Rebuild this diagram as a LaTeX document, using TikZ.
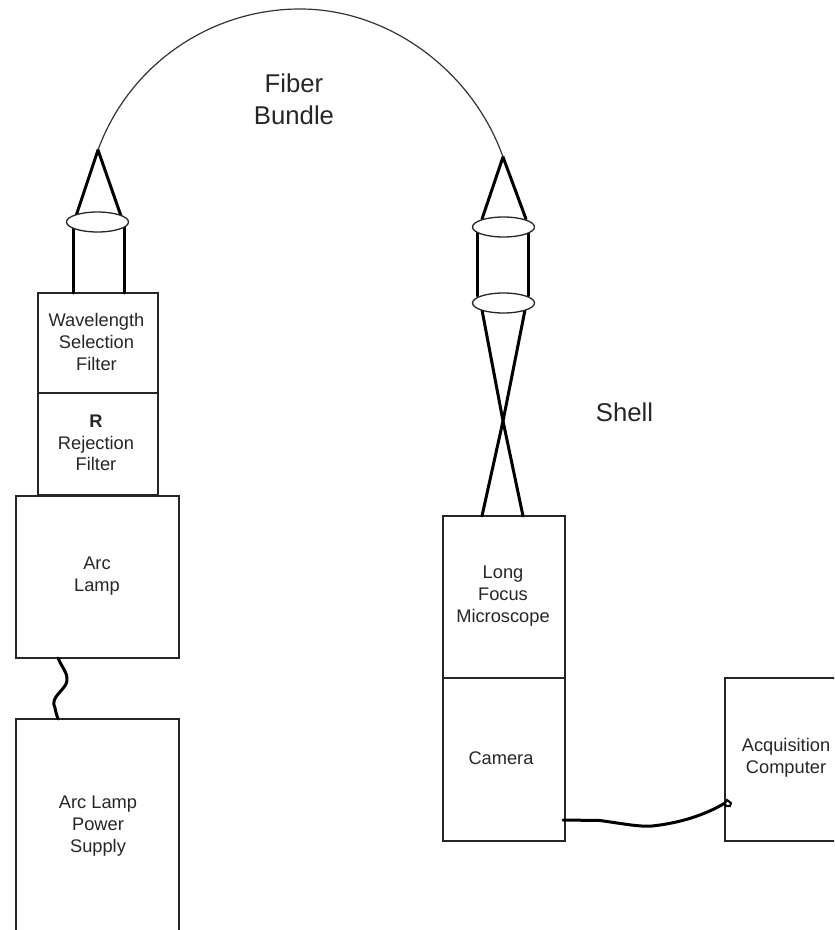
\documentclass[tikz,border=0pt]{standalone}
\usepackage{fontspec}
\setmainfont{Liberation Sans}
\usetikzlibrary{shapes.geometric}
\def\px{0.75pt}
\tikzset{
  box/.style={draw=black!85,line width=1.5*\px,inner sep=0pt,outer sep=0pt,fill=none},
  lens/.style={draw=black!85,ellipse,line width=1.3*\px,inner sep=0pt,outer sep=0pt,minimum width=62*\px,minimum height=20*\px,fill=white},
  optic/.style={line width=3*\px,black,line cap=round,line join=round},
  cable/.style={line width=3*\px,black,line cap=round,line join=round},
  fiber/.style={line width=1.2*\px,black!80},
  lbl/.style={font=\fontsize{13.7}{16.3}\selectfont,align=center,inner sep=0pt,text=black!85},
  biglbl/.style={font=\fontsize{19.3}{24}\selectfont,align=center,inner sep=0pt,text=black!85}
}
\begin{document}
\begin{tikzpicture}[x=0.75pt,y=-0.75pt]
\useasboundingbox (0,0) rectangle (834,930);
\clip (0,0) rectangle (834,930);
% boxes
\node[box,minimum width=120*\px,minimum height=100*\px] (wave) at (98,343) {};
\node[box,minimum width=120*\px,minimum height=102*\px] (rej) at (98,444) {};
\node[box,minimum width=163*\px,minimum height=162*\px] (lamp) at (97.5,577) {};
\node[box,minimum width=163*\px,minimum height=224*\px] (power) at (97.5,831) {};
\node[box,minimum width=122*\px,minimum height=162*\px] (micro) at (504,597) {};
\node[box,minimum width=122*\px,minimum height=163*\px] (cam) at (504,759.5) {};
\node[box,minimum width=130*\px,minimum height=163*\px] (comp) at (790,759.5) {};
% named optic points
\coordinate (apexL) at (98,150);
\coordinate (coneLa) at (76,216);
\coordinate (coneLb) at (121,216);
\coordinate (tubeLa) at (73,226);
\coordinate (tubeLb) at (124,226);
\coordinate (tubeLc) at (73,293);
\coordinate (tubeLd) at (124,293);
\coordinate (apexR) at (503,157);
\coordinate (coneRa) at (482,219);
\coordinate (coneRb) at (526,219);
\coordinate (tubeRa) at (477,232);
\coordinate (tubeRb) at (528,232);
\coordinate (tubeRc) at (477,296);
\coordinate (tubeRd) at (528,296);
\coordinate (crossA) at (482,310);
\coordinate (crossB) at (525,310);
\coordinate (crossC) at (523,516);
\coordinate (crossD) at (482,516);
\coordinate (crossM) at (503,421);
% optic lines
\draw[optic] (coneLa) -- (apexL) -- (coneLb);
\draw[optic] (tubeLa) -- (tubeLc);
\draw[optic] (tubeLb) -- (tubeLd);
\draw[optic] (coneRa) -- (apexR) -- (coneRb);
\draw[optic] (tubeRa) -- (tubeRc);
\draw[optic] (tubeRb) -- (tubeRd);
\draw[optic] (crossA) -- (crossM) -- (crossC);
\draw[optic] (crossB) -- (crossM) -- (crossD);
% lenses
\node[lens] (lensL) at (97.5,222) {};
\node[lens] (lensRa) at (503.5,227) {};
\node[lens] (lensRb) at (503.5,303) {};
% fiber
\draw[fiber] (apexL) .. controls (129,65) and (210,9) .. (300,9) .. controls (390,9) and (473,72) .. (apexR);
% cables
\coordinate (lampOut) at (58,658);
\coordinate (powerIn) at (58,719);
\draw[cable] (lampOut) .. controls (62,668) and (70,675) .. (66,684) .. controls (62,692) and (50,698) .. (55,708) .. controls (56,713) and (57,716) .. (powerIn);
\coordinate (camOut) at (563,820);
\coordinate (compIn) at (725,803);
\draw[cable] (camOut) -- (600,820.5) .. controls (625,824) and (640,827) .. (652,826) .. controls (680,823) and (705,815) .. (compIn);
\draw[line width=2*\px,black] (compIn) -- (727,800) -- (731,803) -- (730,806) -- (726,806) -- cycle;
% labels
\node[lbl] (tWave) at (96.5,342) {Wavelength\\Selection\\Filter};
\node[lbl] (tRej) at (96,443) {\textbf{R}\\Rejection\\Filter};
\node[lbl] (tLamp) at (97,576) {Arc\\Lamp};
\node[lbl] (tPower) at (98,826) {Arc Lamp\\Power\\Supply};
\node[lbl] (tMicro) at (503,596) {Long\\Focus\\Microscope};
\node[lbl] (tCam) at (501,758) {Camera};
\node[lbl] (tComp) at (786,758) {Acquisition\\Computer};
\node[biglbl] (tFiber) at (294,99) {Fiber\\Bundle};
\node[biglbl] (tShell) at (624.5,412) {Shell};
\end{tikzpicture}
\end{document}
